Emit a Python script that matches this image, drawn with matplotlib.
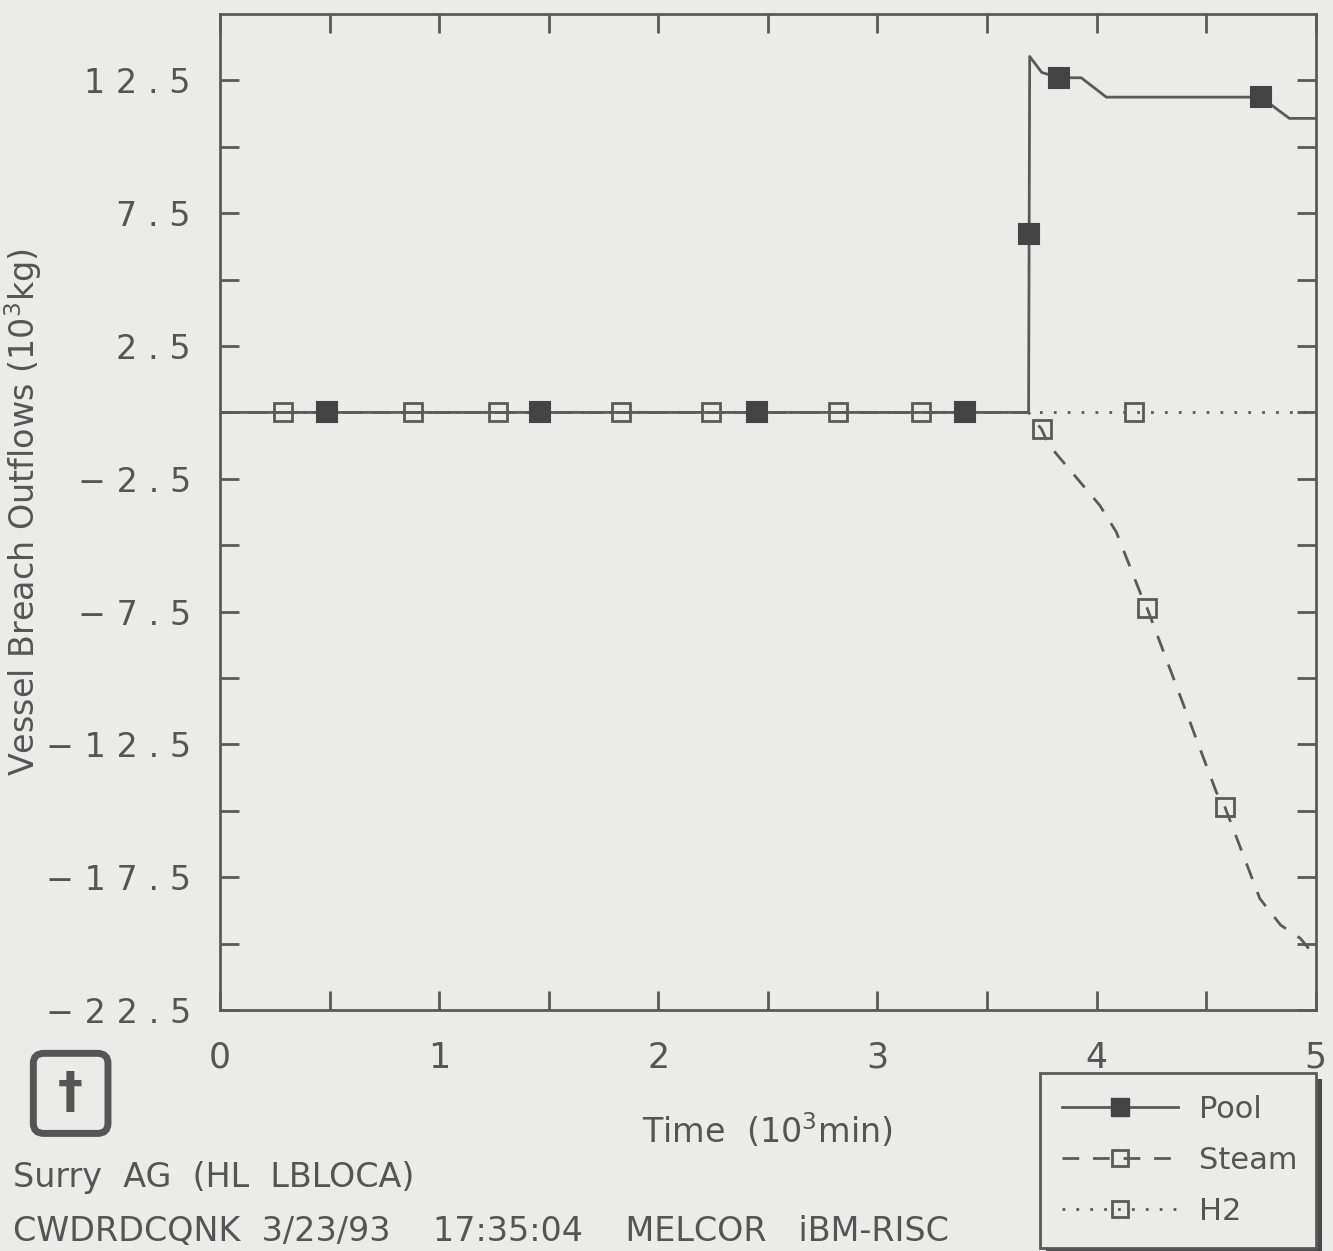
import matplotlib
matplotlib.use("Agg")
import matplotlib.pyplot as plt
from matplotlib.lines import Line2D
from matplotlib.patches import FancyBboxPatch, Rectangle
import numpy as np

# ---- data ----
pool_x = [0.0, 3.69, 3.695, 3.75, 3.83, 3.93, 4.045, 4.75, 4.88, 5.0]
pool_y = [0.0, 0.0, 13.4, 12.8, 12.6, 12.6, 11.87, 11.87, 11.07, 11.07]
pool_mx = [0.49, 1.46, 2.45, 3.40, 3.69, 3.83, 4.75]
pool_my = [0.0, 0.0, 0.0, 0.0, 6.7, 12.6, 11.87]

steam_x = [0.0, 3.69, 3.75, 3.78, 4.015, 4.09, 4.20, 4.23, 4.547, 4.586, 4.745, 4.84, 4.93, 5.0]
steam_y = [0.0, 0.0, -0.64, -1.2, -3.5, -4.5, -6.8, -7.35, -14.3, -14.86, -18.3, -19.3, -19.8, -20.5]
steam_mx = [0.29, 1.27, 2.24, 3.20, 3.75, 4.23, 4.586]
steam_my = [0.0, 0.0, 0.0, 0.0, -0.64, -7.35, -14.86]

h2_x = [0.0, 3.69, 5.0]
h2_y = [0.0, 0.0, 0.0]
h2_mx = [0.88, 1.83, 2.82, 4.17]
h2_my = [0.0, 0.0, 0.0, 0.0]

yticks = [12.5, 7.5, 2.5, -2.5, -7.5, -12.5, -17.5, -22.5]
ytick_labels = ["1 2 . 5", "7 . 5", "2 . 5", "\u2212 2 . 5", "\u2212 7 . 5",
                "\u2212 1 2 . 5", "\u2212 1 7 . 5", "\u2212 2 2 . 5"]
xticks = [0, 1, 2, 3, 4, 5]

bg = "#ebebea"
ink = "#5a5a5a"
txt = "#555555"

fig = plt.figure(figsize=(13.33, 12.51), dpi=100, facecolor=bg)
ax = fig.add_axes([0.165, 0.1926, 0.822, 0.7962], facecolor=bg)

ax.set_xlim(0, 5)
ax.set_ylim(-22.5, 15)

ax.plot(h2_x, h2_y, color=ink, lw=2, ls=(0, (1, 4)), zorder=2)
ax.plot(steam_x, steam_y, color=ink, lw=2, ls=(0, (6, 5)), zorder=2)
ax.plot(pool_x, pool_y, color=ink, lw=2, ls="-", zorder=3)

ax.plot(steam_mx, steam_my, ls="none", marker="s", ms=13, mfc="none", mec=ink, mew=2, zorder=4)
ax.plot(h2_mx, h2_my, ls="none", marker="s", ms=13, mfc="none", mec=ink, mew=2, zorder=4)
ax.plot(pool_mx, pool_my, ls="none", marker="s", ms=14, mfc="#444444", mec="#444444", mew=1.5, zorder=5)

ax.set_yticks(yticks)
ax.set_yticklabels(ytick_labels)
ax.set_yticks(np.arange(-20, 15, 5.0), minor=True)
ax.set_xticks(xticks)
ax.set_xticks(np.arange(0.5, 5, 1.0), minor=True)

for side in ["left", "right", "top", "bottom"]:
    ax.spines[side].set_color(ink)
    ax.spines[side].set_linewidth(2)

ax.tick_params(axis="both", which="both", direction="in", top=True, right=True,
               color=ink, width=2, labelcolor=txt)
ax.tick_params(axis="both", which="major", length=14)
ax.tick_params(axis="both", which="minor", length=14)
ax.tick_params(axis="y", labelsize=24, pad=21)
ax.tick_params(axis="x", labelsize=25, pad=22)

ax.set_xlabel("Time  (10$^3$min)", fontsize=24, color=txt, labelpad=26)
ax.set_ylabel("Vessel Breach Outflows (10$^3$kg)", fontsize=24, color=txt)
ax.yaxis.set_label_coords(-0.161, 0.5)

# footer texts
fig.text(0.010, 0.051, "Surry  AG  (HL  LBLOCA)", fontsize=24, color=txt)
fig.text(0.010, 0.008, "CWDRDCQNK  3/23/93    17:35:04    MELCOR   iBM-RISC", fontsize=24, color=txt)

# logo box
logo = FancyBboxPatch((0.027, 0.096), 0.052, 0.060, boxstyle="round,pad=0.002,rounding_size=0.008",
                      transform=fig.transFigure, facecolor=bg, edgecolor=txt, lw=5)
fig.patches.append(logo)
fig.text(0.053, 0.126, "\u2020", fontsize=36, color=txt, ha="center", va="center", fontweight="bold")

# legend
leg_handles = [
    Line2D([], [], color=ink, lw=2, ls="-", marker="s", ms=13, mfc="#444444", mec="#444444"),
    Line2D([], [], color=ink, lw=2, ls=(0, (6, 5)), marker="s", ms=12, mfc="none", mec=ink, mew=2),
    Line2D([], [], color=ink, lw=2, ls=(0, (1, 4)), marker="s", ms=12, mfc="none", mec=ink, mew=2),
]
leg = fig.legend(leg_handles, ["Pool", "Steam", "H2"], loc="upper left",
                 bbox_to_anchor=(0.780, 0.1423, 0.207, 0.0), mode="expand",
                 borderaxespad=0.0,
                 fontsize=22, frameon=True, fancybox=False, shadow=False,
                 handlelength=3.8, handletextpad=0.7, labelspacing=0.72,
                 borderpad=0.72, labelcolor=txt)
leg.get_frame().set_edgecolor(ink)
leg.get_frame().set_linewidth(2)
leg.get_frame().set_facecolor(bg)
leg.get_frame().set_alpha(1)
leg.set_zorder(5)

# legend shadow (drawn after layout from the legend's own extent)
fig.canvas.draw()
bb = leg.get_window_extent().transformed(fig.transFigure.inverted())
shadow = Rectangle((bb.x0 + 0.005, bb.y0 - 0.005), bb.width, bb.height,
                   transform=fig.transFigure, facecolor="#4a4a4a", edgecolor="none", zorder=1)
fig.patches.append(shadow)

fig.savefig("out.png", dpi=100, facecolor=bg)
